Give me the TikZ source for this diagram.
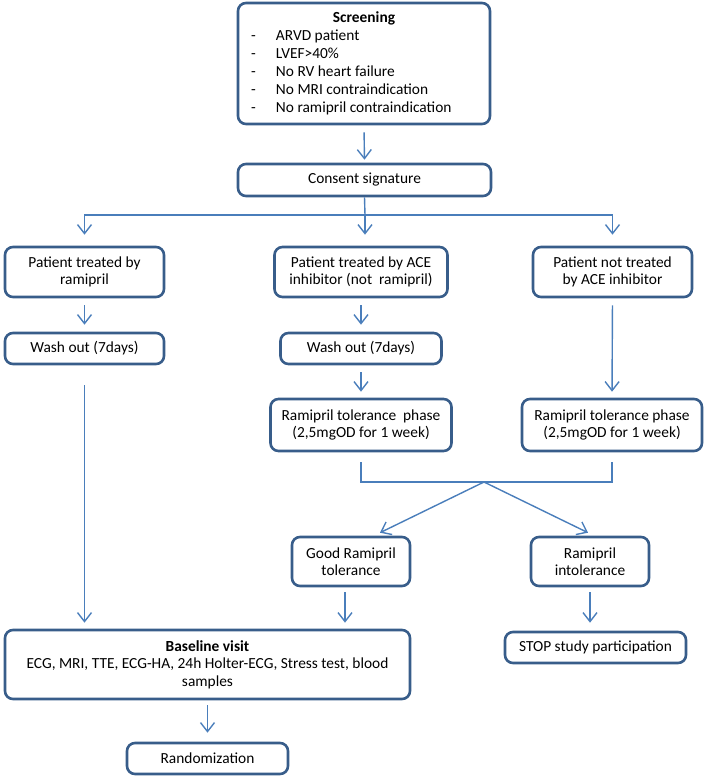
\documentclass[tikz,border=0pt]{standalone}
\usepackage{fontspec}
\setmainfont{Carlito}
\usetikzlibrary{arrows.meta}
\definecolor{boxblue}{HTML}{385D8A}
\definecolor{linkblue}{HTML}{4A7EBB}

\begin{document}
\begin{tikzpicture}[x = 1pt, y = -1pt,
            box/.style = {draw = boxblue, line width = 2.6pt, rounded corners = 8pt, fill = white,
                          inner sep = 0pt, align = center, font = \fontsize{15.4}{17.5}\selectfont},
            link/.style = {draw = linkblue, line width = 1.4pt},
            arr/.style = {link, -{Straight Barb[length = 9pt, width = 14pt]}}]
            \useasboundingbox (0, 0) rectangle (709, 777);
            % boxes
            \node [box, minimum width = 252pt, minimum height = 121pt, font = \fontsize{15.4}{18}\selectfont] (screen) at (364, 63.5) {%
                \begin{tabular}{@{}p{25pt}@{}p{201pt}@{}}
                    \multicolumn{2}{@{}c@{}}{\textbf{Screening}}\\
                    - & ARVD patient\\
                    - & LVEF>40\%\\
                    - & No RV heart failure\\
                    - & No MRI contraindication\\
                    - & No ramipril contraindication
                \end{tabular}};
            \node [box, minimum width = 253pt, minimum height = 32pt] (consent) at (364.5, 180) {Consent signature};
            \node [box, minimum width = 159pt, minimum height = 50pt] (p1) at (84.5, 272) {Patient treated by\\ramipril};
            \node [box, minimum width = 173pt, minimum height = 50pt] (p2) at (361, 272) {Patient treated by ACE\\inhibitor (not\ \ ramipril)};
            \node [box, minimum width = 159pt, minimum height = 50pt] (p3) at (612.5, 272) {Patient not treated\\by ACE inhibitor};
            \node [box, minimum width = 159pt, minimum height = 31pt] (w1) at (84.5, 348.5) {Wash out (7days)};
            \node [box, minimum width = 161pt, minimum height = 31pt] (w2) at (361, 348.5) {Wash out (7days)};
            \node [box, minimum width = 181pt, minimum height = 52pt] (t2) at (361, 425) {Ramipril tolerance\ \ phase\\(2,5mgOD for 1 week)};
            \node [box, minimum width = 180pt, minimum height = 52pt] (t3) at (612, 425) {Ramipril tolerance phase\\(2,5mgOD for 1 week)};
            \node [box, minimum width = 118pt, minimum height = 49pt] (good) at (351, 561.5) {Good Ramipril\\tolerance};
            \node [box, minimum width = 118pt, minimum height = 49pt] (intol) at (590, 561.5) {Ramipril\\intolerance};
            \node [box, minimum width = 405pt, minimum height = 69pt] (base) at (207.5, 664.5) {\textbf{Baseline visit}\\ECG, MRI, TTE, ECG-HA, 24h Holter-ECG, Stress test, blood\\samples};
            \node [box, minimum width = 181pt, minimum height = 31pt] (stop) at (595.5, 647.5) {STOP study participation};
            \node [box, minimum width = 161pt, minimum height = 31pt] (rand) at (207.5, 758.5) {Randomization};
            % connectors
            \coordinate (split) at (365, 215);
            \coordinate (merge) at (484, 482);
            \draw [arr, shorten <= 7pt, shorten >= 3pt] (screen.south) -- (consent.north);
            \draw [link] (consent.south) -- (split);
            \draw [arr, shorten >= 11pt] (split) -| (p1.north);
            \draw [arr, shorten >= 11pt] (split) -- (split |- p2.north);
            \draw [arr, shorten >= 11pt] (split) -| (p3.north);
            \draw [arr, shorten <= 7pt, shorten >= 7pt] (p1.south) -- (w1.north);
            \draw [arr, shorten <= 7pt, shorten >= 7pt] (p2.south) -- (w2.north);
            \draw [arr, shorten <= 7pt, shorten >= 6pt] (w2.south) -- (t2.north);
            \draw [arr, shorten <= 7pt, shorten >= 6pt] (p3.south) -- (t3.north);
            \draw [arr, shorten <= 20pt, shorten >= 6pt] (w1.south) -- (w1.south |- base.north);
            \draw [link, shorten <= 10pt] (t2.south) |- (merge);
            \draw [link, shorten >= 10pt] (merge) -| (t3.south);
            \draw [arr] (merge) -- ([xshift = 29pt, yshift = 3pt] good.north);
            \draw [arr] (merge) -- ([xshift = -2pt, yshift = 3pt] intol.north);
            \draw [arr, shorten <= 5pt, shorten >= 6pt] ([xshift = -6pt] good.south) -- ([xshift = -6pt] good.south |- base.north);
            \draw [arr, shorten <= 5pt, shorten >= 8pt] (intol.south) -- (intol.south |- stop.north);
            \draw [arr, shorten <= 5pt, shorten >= 9pt] (base.south) -- (rand.north);
        \end{tikzpicture}
\end{document}
